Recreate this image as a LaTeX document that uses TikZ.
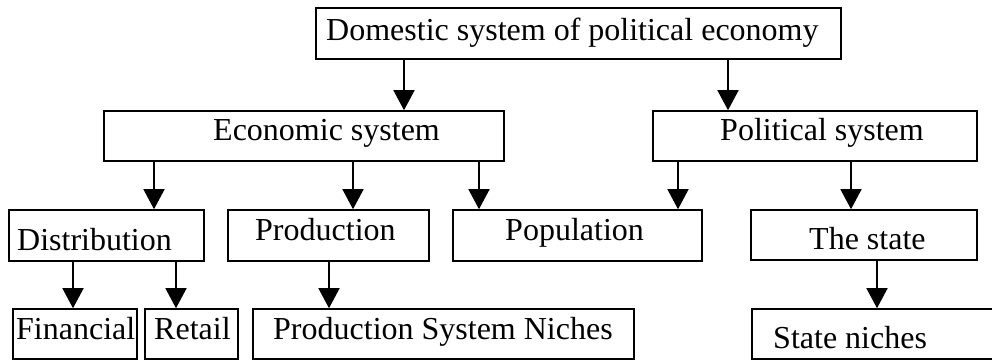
\documentclass[tikz,border=0pt]{standalone}
\usepackage{fontspec}
\setmainfont{Liberation Serif}
\usetikzlibrary{arrows.meta}
\tikzset{
  box/.style={draw, line width=1.6pt, rectangle, inner sep=0pt},
  txt/.style={anchor=base west, inner sep=0pt, font=\fontsize{32}{38}\selectfont},
  arr/.style={line width=1.5pt, -{Triangle[width=21pt,length=20pt]}}
}
\begin{document}
\begin{tikzpicture}[x=1pt,y=-1pt]
\useasboundingbox (0,0) rectangle (992,360);
\clip (0,0) rectangle (992,360);
% boxes
\node[box, minimum width=525pt, minimum height=51pt] (dom) at (578.5,33.5) {};
\node[box, minimum width=400pt, minimum height=50pt] (eco) at (304,136) {};
\node[box, minimum width=324pt, minimum height=50pt] (pol) at (815,136) {};
\node[box, minimum width=195pt, minimum height=51pt] (dist) at (106.5,235.5) {};
\node[box, minimum width=201pt, minimum height=51pt] (prod) at (328.5,235.5) {};
\node[box, minimum width=249pt, minimum height=51pt] (popu) at (577.5,235.5) {};
\node[box, minimum width=226pt, minimum height=50pt] (state) at (864,235) {};
\node[box, minimum width=124pt, minimum height=50pt] (fin) at (75,334) {};
\node[box, minimum width=93pt, minimum height=50pt] (ret) at (191.5,334) {};
\node[box, minimum width=381pt, minimum height=50pt] (psn) at (443.5,334) {};
\node[box, minimum width=248pt, minimum height=50pt] (sn) at (876,334) {};
% texts
\node[txt] (tdom) at (326,40) {Domestic system of political economy};
\node[txt] (teco) at (213,140) {Economic system};
\node[txt] (tpol) at (720,140) {Political system};
\node[txt] (tdist) at (17,250) {Distribution};
\node[txt] (tprod) at (255,240) {Production};
\node[txt] (tpopu) at (505,240) {Population};
\node[txt] (tstate) at (809,249) {The state};
\node[txt] (tfin) at (16,339) {Financial};
\node[txt] (tret) at (154,339) {Retail};
\node[txt] (tpsn) at (273,339) {Production System Niches};
\node[txt] (tsn) at (773,348) {State niches};
% arrows
\draw[arr] (dom.south -| 404,0) -- (eco.north -| 404,0);
\draw[arr] (dom.south -| 728,0) -- (pol.north -| 728,0);
\draw[arr] (eco.south -| 154,0) -- (dist.north -| 154,0);
\draw[arr] (eco.south -| 353,0) -- (prod.north -| 353,0);
\draw[arr] (eco.south -| 479,0) -- (popu.north -| 479,0);
\draw[arr] (pol.south -| 678,0) -- (popu.north -| 678,0);
\draw[arr] (pol.south -| 851,0) -- (state.north -| 851,0);
\draw[arr] (dist.south -| 73,0) -- (fin.north -| 73,0);
\draw[arr] (dist.south -| 176,0) -- (ret.north -| 176,0);
\draw[arr] (prod.south -| 329,0) -- (psn.north -| 329,0);
\draw[arr] (state.south -| 877,0) -- (sn.north -| 877,0);
\end{tikzpicture}
\end{document}
